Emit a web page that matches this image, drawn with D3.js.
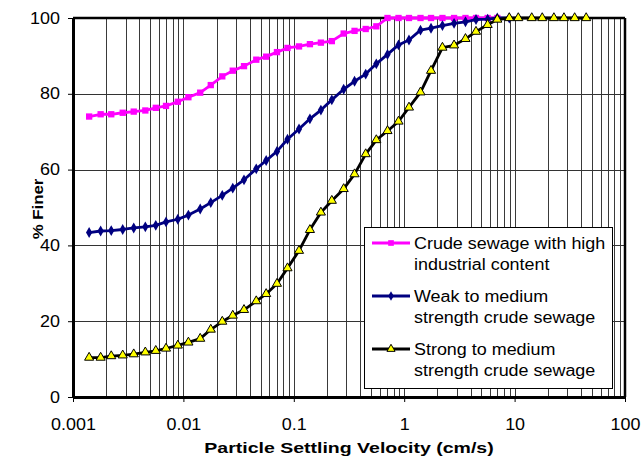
<!DOCTYPE html>
<html>
<head>
<meta charset="utf-8">
<script src="https://cdn.jsdelivr.net/npm/d3@7"></script>
<style>
  body { margin: 0; background: #fff; }
  text { font-family: "Liberation Sans", Arial, sans-serif; fill: #000; }
</style>
</head>
<body>
<svg id="vis"></svg>
<script>
// settling velocity (cm/s), shared by all three curves
const velocity = [
  0.0014, 0.00178, 0.00222, 0.00282, 0.00355, 0.00452, 0.00562, 0.00696, 0.0089, 0.0111,
  0.0142, 0.0177, 0.0225, 0.028, 0.0354, 0.0457, 0.0562, 0.0704, 0.0877, 0.1115,
  0.14, 0.176, 0.221, 0.283, 0.355, 0.448, 0.559, 0.706, 0.888, 1.105,
  1.405, 1.75, 2.22, 2.83, 3.59, 4.47, 5.7, 6.97, 8.95, 10.8,
  14.3, 17.8, 22.7, 28.0, 35.0, 44.5
];

// % finer
const crudeIndustrial = [
  74.0, 74.6, 74.6, 75.0, 75.3, 75.6, 76.3, 76.8, 77.9, 79.1,
  80.3, 82.3, 84.6, 86.1, 87.3, 89.0, 89.8, 91.0, 92.1, 92.5,
  93.1, 93.5, 93.9, 95.9, 96.6, 97.1, 97.8, 100, 100, 100,
  100, 100, 100, 100, 100, 100, 100, 100
];

const weakMedium = [
  43.4, 43.8, 43.9, 44.2, 44.6, 44.9, 45.3, 46.2, 46.9, 48.0,
  49.6, 51.3, 53.2, 55.1, 57.3, 60.2, 62.4, 64.8, 68.0, 70.7,
  73.4, 75.7, 78.4, 81.2, 83.3, 85.2, 87.9, 90.4, 92.9, 94.2,
  96.8, 97.3, 98.0, 98.6, 99.0, 99.6, 99.7, 100, 100
];

const strongMedium = [
  10.4, 10.4, 10.8, 11.0, 11.3, 11.8, 12.2, 12.8, 13.6, 14.4,
  15.4, 17.8, 19.9, 21.5, 23.0, 25.3, 27.2, 29.9, 34.0, 38.6,
  44.1, 48.7, 51.8, 54.9, 58.8, 64.1, 67.8, 70.2, 72.7, 76.4,
  80.4, 86.1, 92.2, 92.8, 94.5, 96.4, 98.2, 99.6, 100, 100,
  100, 100, 100, 100, 100, 100
];

const seriesLabels = [
  ["Crude sewage with high", "industrial content"],
  ["Weak to medium", "strength crude sewage"],
  ["Strong to medium", "strength crude sewage"]
];

const xTicks = [0.001, 0.01, 0.1, 1, 10, 100];
const yTicks = [0, 20, 40, 60, 80, 100];

let config = { svg: {}, plot: {}, legend: {} };

config.svg.width = 641;
config.svg.height = 461;

config.plot.x = 73;
config.plot.y = 18;
config.plot.width = 552;
config.plot.height = 379;

config.legend.x = 364;
config.legend.y = 227;
config.legend.width = 248;
config.legend.height = 161;

const svg = d3.select("svg#vis")
  .attr("width", config.svg.width)
  .attr("height", config.svg.height);

let scale = {};
scale.x = d3.scaleLog().domain([0.001, 100]).range([0, config.plot.width]);
scale.y = d3.scaleLinear().domain([0, 100]).range([config.plot.height, 0]);

let plot = svg.append("g")
  .attr("transform", translate(config.plot.x, config.plot.y));

// vertical grid at every minor decade step
let minor = [];
for (let e = -3; e < 2; e++) {
  for (let m = 2; m <= 9; m++) minor.push(m * Math.pow(10, e));
}
minor = minor.concat(xTicks.slice(1));

plot.append("g").selectAll("line")
  .data(minor)
  .enter()
  .append("line")
  .attr("x1", d => Math.round(scale.x(d)) + 0.5)
  .attr("x2", d => Math.round(scale.x(d)) + 0.5)
  .attr("y1", 0)
  .attr("y2", config.plot.height)
  .attr("stroke", "#3a3a3a")
  .attr("stroke-width", 1);

plot.append("g").selectAll("line")
  .data(yTicks.slice(1, 5))
  .enter()
  .append("line")
  .attr("x1", 0)
  .attr("x2", config.plot.width)
  .attr("y1", d => Math.round(scale.y(d)) + 0.5)
  .attr("y2", d => Math.round(scale.y(d)) + 0.5)
  .attr("stroke", "#333")
  .attr("stroke-width", 1);

// frame
plot.append("line").attr("x1", 0).attr("x2", config.plot.width).attr("y1", 0).attr("y2", 0)
  .attr("stroke", "#000").attr("stroke-width", 2.5);
plot.append("line").attr("x1", config.plot.width).attr("x2", config.plot.width)
  .attr("y1", 0).attr("y2", config.plot.height)
  .attr("stroke", "#000").attr("stroke-width", 2.5);

// axes
let axis = {};
axis.x = d3.axisBottom(scale.x).tickValues(xTicks).tickFormat(d => String(d))
  .tickSize(5).tickSizeOuter(0).tickPadding(17);
axis.y = d3.axisLeft(scale.y).tickValues(yTicks).tickSize(5).tickSizeOuter(0).tickPadding(8);

let gx = svg.append("g")
  .attr("transform", translate(config.plot.x, config.plot.y + config.plot.height))
  .call(axis.x);
let gy = svg.append("g")
  .attr("transform", translate(config.plot.x, config.plot.y))
  .call(axis.y);

[gx, gy].forEach(g => {
  g.attr("font-family", null);
  g.select(".domain").attr("stroke", "#000").attr("stroke-width", 3);
  g.selectAll(".tick line").attr("stroke", "#000").attr("stroke-width", 1);
  g.selectAll(".tick text").attr("font-size", "16px").attr("fill", "#000");
});
stretch(gx.selectAll(".tick text"), 1.12);
stretch(gy.selectAll(".tick text"), 1.12);

// series
const series = [
  { values: crudeIndustrial, color: "#ff00ff", symbol: d3.symbolSquare, size: 40, fill: "#ff00ff", stroke: "none" },
  { values: weakMedium, color: "#000080", symbol: d3.symbolDiamond, size: 34, fill: "#000080", stroke: "none" },
  { values: strongMedium, color: "#000000", symbol: d3.symbolTriangle, size: 36, fill: "#ffff00", stroke: "#000" }
];

let line = d3.line()
  .x(d => scale.x(d.v))
  .y(d => scale.y(d.p));

series.forEach(s => {
  let pts = s.values.map((p, i) => ({ v: velocity[i], p: p }));

  plot.append("path")
    .datum(pts)
    .attr("d", line)
    .attr("fill", "none")
    .attr("stroke", s.color)
    .attr("stroke-width", 2.8)
    .attr("stroke-linejoin", "round");

  plot.append("g").selectAll("path")
    .data(pts)
    .enter()
    .append("path")
    .attr("d", d3.symbol().type(s.symbol).size(s.size))
    .attr("transform", d => translate(scale.x(d.v), scale.y(d.p)))
    .attr("fill", s.fill)
    .attr("stroke", s.stroke)
    .attr("stroke-width", 1);
});

drawLegend();
drawTitles();

function drawLegend() {
  let legend = svg.append("g")
    .attr("transform", translate(config.legend.x, config.legend.y));

  legend.append("rect")
    .attr("x", 0.5).attr("y", 0.5)
    .attr("width", config.legend.width)
    .attr("height", config.legend.height)
    .attr("fill", "#fff")
    .attr("stroke", "#000")
    .attr("stroke-width", 1);

  let rows = legend.selectAll("g.row")
    .data(series)
    .enter()
    .append("g")
    .attr("class", "row")
    .attr("transform", (d, i) => translate(0, 16 + i * 53));

  rows.append("line")
    .attr("x1", 8).attr("x2", 46)
    .attr("y1", 0).attr("y2", 0)
    .attr("stroke", d => d.color)
    .attr("stroke-width", 2.8);

  rows.append("path")
    .attr("d", d => d3.symbol().type(d.symbol).size(d.size * 0.8)())
    .attr("transform", translate(27, 0))
    .attr("fill", d => d.fill)
    .attr("stroke", d => d.stroke)
    .attr("stroke-width", 1);

  rows.each(function(d, i) {
    let row = d3.select(this);
    seriesLabels[i].forEach((txt, j) => {
      let t = row.append("text")
        .text(txt)
        .attr("x", 50)
        .attr("y", 6 + j * 21)
        .attr("font-size", "16px");
      stretch(t, 1.12);
    });
  });
}

function drawTitles() {
  let xt = svg.append("text")
    .text("Particle Settling Velocity (cm/s)")
    .attr("x", 349)
    .attr("y", 453)
    .attr("text-anchor", "middle")
    .attr("font-size", "15px")
    .attr("font-weight", "bold");
  stretch(xt, 1.3);

  let yt = svg.append("text")
    .text("% Finer")
    .attr("transform", translate(43, 209) + " rotate(-90)")
    .attr("text-anchor", "middle")
    .attr("font-size", "15px")
    .attr("font-weight", "bold");
  stretch(yt, 1.12);
}

function stretch(sel, k) {
  sel.each(function() {
    let w = this.getComputedTextLength();
    d3.select(this).attr("textLength", w * k).attr("lengthAdjust", "spacingAndGlyphs");
  });
}

function translate(x, y) {
  return "translate(" + x + "," + y + ")";
}
</script>
</body>
</html>
